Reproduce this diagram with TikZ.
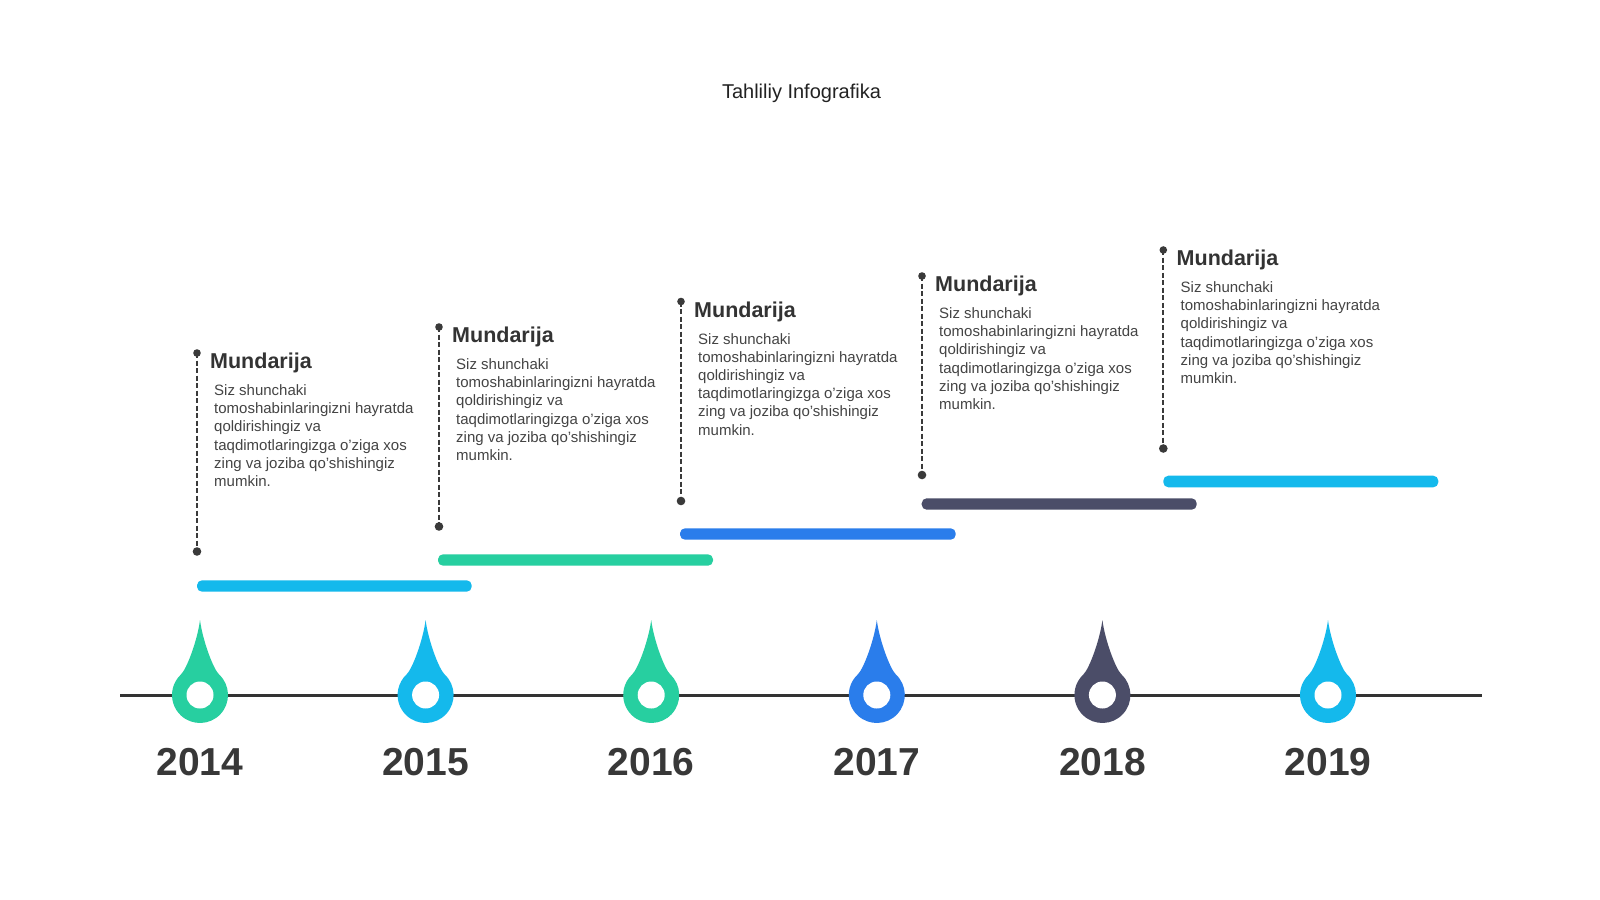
\documentclass[tikz,border=0pt]{standalone}
\usepackage{fontspec}
\setmainfont{Liberation Sans}
\usepackage{xcolor}
\usetikzlibrary{positioning}

\definecolor{dropgreen}{HTML}{27CFA0}
\definecolor{dropcyan}{HTML}{14B9EC}
\definecolor{dropblue}{HTML}{2A7DEB}
\definecolor{dropslate}{HTML}{4B4D68}
\definecolor{titlegray}{HTML}{222222}
\definecolor{yeargray}{HTML}{383838}
\definecolor{headgray}{HTML}{333333}
\definecolor{bodygray}{HTML}{444444}
\definecolor{pingray}{HTML}{3A3A3A}
\definecolor{axisgray}{HTML}{333333}

% one drop on the time axis: #1 = x, #2 = colour
\newcommand{\yeardrop}[2]{%
  \fill[#2, shift={(#1,-695)}] (0,75) .. controls (2.5,55) and (13.25,25.96) .. (19.1,20.5)
    arc[start angle=47, end angle=-227, radius=28pt]
    .. controls (-13.25,25.96) and (-2.5,55) .. (0,75) -- cycle;
  \fill[white] (#1,-695) circle[radius=13.5pt];}

\newcommand{\mundtext}{Siz shunchaki\\tomoshabinlaringizni hayratda\\qoldirishingiz va\\taqdimotlaringizga o'ziga xos\\zing va joziba qo'shishingiz\\mumkin.}

\begin{document}
\begin{tikzpicture}[x=1pt, y=1pt]
	\tikzstyle{title} = [font=\fontsize{20}{24}\selectfont, text=titlegray, inner sep=0pt, anchor=base]
	\tikzstyle{year} = [font=\fontsize{39}{44}\selectfont\bfseries, text=yeargray, inner sep=0pt, anchor=base]
	\tikzstyle{head} = [font=\fontsize{21.5}{25}\selectfont\bfseries, text=headgray, inner sep=0pt, anchor=base west]
	\tikzstyle{body} = [font=\fontsize{15}{18.2}\selectfont, text=bodygray, inner sep=0pt, align=left, anchor=base west]
	\tikzstyle{dashline} = [draw=pingray, line width=2.3pt, dash pattern=on 5pt off 2.5pt]
	\tikzstyle{pin} = [fill=pingray]
	\tikzstyle{axis} = [draw=axisgray, line width=2.4pt]
	\tikzstyle{bar} = [rounded corners=5pt]

	\useasboundingbox (0,0) rectangle (1600,-899);
	\fill[white] (0,0) rectangle (1600,-899);

	\node[title] at (801.5, -98) (ttl) {Tahliliy Infografika};

	% time axis
	\coordinate (axl) at (120, -695.5);
	\coordinate (axr) at (1482, -695.5);
	\draw[axis] (axl) -- (axr);

	\yeardrop{200}{dropgreen}
	\yeardrop{425.6}{dropcyan}
	\yeardrop{651.2}{dropgreen}
	\yeardrop{876.8}{dropblue}
	\yeardrop{1102.4}{dropslate}
	\yeardrop{1328}{dropcyan}

	\node[year] at (200, -775) (y2014) {2014};
	\node[year] at (425.6, -775) (y2015) {2015};
	\node[year] at (651.2, -775) (y2016) {2016};
	\node[year] at (876.8, -775) (y2017) {2017};
	\node[year] at (1102.4, -775) (y2018) {2018};
	\node[year] at (1328, -775) (y2019) {2019};

	% steps (body base = last line)
	\coordinate (s1t) at (197, -353);
	\coordinate (s1b) at (197, -551.5);
	\draw[dashline] (s1t) -- (s1b);
	\fill[pin] (s1t) circle[radius=3.8pt];
	\fill[pin] (s1b) circle[radius=4.3pt];
	\node[head] at (210, -368.5) (h1) {Mundarija};
	\node[body] at (214, -486.5) (t1) {\mundtext};
	\fill[bar, dropcyan] (197, -580.3) rectangle (471.7, -591.7);

	\coordinate (s2t) at (439, -327);
	\coordinate (s2b) at (439, -526.5);
	\draw[dashline] (s2t) -- (s2b);
	\fill[pin] (s2t) circle[radius=3.8pt];
	\fill[pin] (s2b) circle[radius=4.3pt];
	\node[head] at (452, -342.5) (h2) {Mundarija};
	\node[body] at (456, -460.5) (t2) {\mundtext};
	\fill[bar, dropgreen] (438, -554.3) rectangle (713, -565.7);

	\coordinate (s3t) at (681, -301.5);
	\coordinate (s3b) at (681, -501);
	\draw[dashline] (s3t) -- (s3b);
	\fill[pin] (s3t) circle[radius=3.8pt];
	\fill[pin] (s3b) circle[radius=4.3pt];
	\node[head] at (694, -317) (h3) {Mundarija};
	\node[body] at (698, -435) (t3) {\mundtext};
	\fill[bar, dropblue] (680, -528.3) rectangle (955.7, -539.7);

	\coordinate (s4t) at (922, -276);
	\coordinate (s4b) at (922, -475);
	\draw[dashline] (s4t) -- (s4b);
	\fill[pin] (s4t) circle[radius=3.8pt];
	\fill[pin] (s4b) circle[radius=4.3pt];
	\node[head] at (935, -291.5) (h4) {Mundarija};
	\node[body] at (939, -409.5) (t4) {\mundtext};
	\fill[bar, dropslate] (921.7, -498.3) rectangle (1196.7, -509.7);

	\coordinate (s5t) at (1163.3, -250);
	\coordinate (s5b) at (1163.3, -448.5);
	\draw[dashline] (s5t) -- (s5b);
	\fill[pin] (s5t) circle[radius=3.8pt];
	\fill[pin] (s5b) circle[radius=4.3pt];
	\node[head] at (1176.5, -265.5) (h5) {Mundarija};
	\node[body] at (1180.5, -383.5) (t5) {\mundtext};
	\fill[bar, dropcyan] (1163.3, -475.7) rectangle (1438.3, -487.3);
\end{tikzpicture}
\end{document}
